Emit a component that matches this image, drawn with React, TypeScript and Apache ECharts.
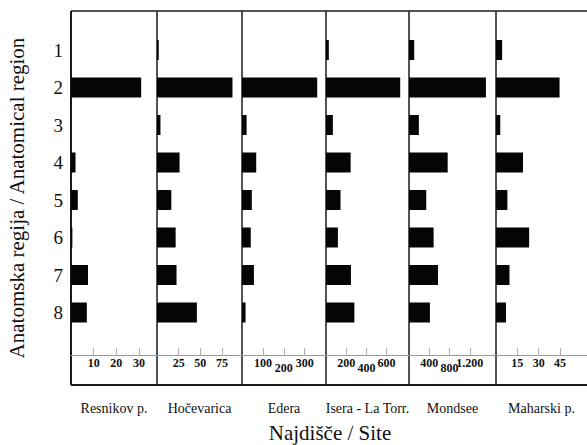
import React, { useEffect, useRef } from "react";
import * as echarts from "echarts";

const categories = ["1", "2", "3", "4", "5", "6", "7", "8"];
const sites = ["Resnikov p.", "Hočevarica", "Edera", "Isera - La Torr.", "Mondsee", "Maharski p."];

const resnikov = [0, 31, 0, 2, 3, 0.6, 7.5, 7];
const hocevarica = [2, 87, 4, 26, 16.5, 21.5, 22.5, 46];
const edera = [0, 360, 22, 68, 47, 42, 57, 17];
const isera = [28, 735, 68, 244, 144, 118, 247, 281];
const mondsee = [103, 1519, 195, 764, 341, 486, 572, 413];
const maharski = [4.3, 44.7, 3, 19, 8, 23.3, 9.5, 7];

const seriesValues = [resnikov, hocevarica, edera, isera, mondsee, maharski];

const resnikovTicks = [10, 20, 30];
const hocevaricaTicks = [25, 50, 75];
const ederaTicks = [100, 200, 300];
const iseraTicks = [200, 400, 600];
const mondseeTicks = [400, 800, 1200];
const maharskiTicks = [15, 30, 45];
const tickValues = [resnikovTicks, hocevaricaTicks, ederaTicks, iseraTicks, mondseeTicks, maharskiTicks];

const axisMax = [38, 98, 402, 822, 1718, 64];

// layout
const panelEdges = [71, 157, 242, 326, 409, 496, 587];
const staggered = [false, false, true, true, true, false];
const frameTop = 11;
const frameBottom = 385;
const barTop = 31.25;
const barHeight = 300;
const axisY = 355;

const serif = "Liberation Serif";

function fmt(v: number): string {
  if (v >= 1000) {
    return Math.floor(v / 1000) + "." + String(v % 1000).padStart(3, "0");
  }
  return String(v);
}

const labelStyle = {
  color: "#111",
  fontFamily: serif,
  fontSize: 12,
  fontWeight: "bold",
};

export default function App() {
  const ref = useRef<HTMLDivElement>(null);
  useEffect(() => {
    document.body.style.margin = "0";
    if (!ref.current) return;
    const chart = echarts.init(ref.current, null, { renderer: "svg" });

    const grids: any[] = [];
    const xAxes: any[] = [];
    const yAxes: any[] = [];
    const series: any[] = [];
    const offset = axisY - (barTop + barHeight);

    sites.forEach((site, i) => {
      const left = panelEdges[i];
      const width = panelEdges[i + 1] - panelEdges[i];
      grids.push({ left, width, top: barTop, height: barHeight, containLabel: false });
      const ticks = tickValues[i];
      const stag = staggered[i];
      const upper = stag ? ticks.filter((_, k) => k !== 1) : ticks;
      const xIndex = xAxes.length;
      xAxes.push({
        type: "value",
        gridIndex: i,
        position: "bottom",
        offset,
        min: 0,
        max: axisMax[i],
        splitLine: { show: false },
        axisLine: { show: true, lineStyle: { color: "#9a9a9a", width: 1 } },
        axisTick: {
          show: true,
          inside: true,
          length: 7,
          customValues: ticks,
          lineStyle: { color: "#b0b0b0", width: 1 },
        },
        axisLabel: {
          show: true,
          customValues: upper,
          showMinLabel: true,
          showMaxLabel: true,
          hideOverlap: false,
          margin: 2,
          ...labelStyle,
          formatter: (v: number) => fmt(v),
        },
        name: site,
        nameLocation: "middle",
        nameGap: 46,
        nameTextStyle: { fontFamily: serif, fontSize: 14, color: "#111" },
      });
      if (stag) {
        xAxes.push({
          type: "value",
          gridIndex: i,
          position: "bottom",
          offset,
          min: 0,
          max: axisMax[i],
          splitLine: { show: false },
          axisLine: { show: false },
          axisTick: { show: false },
          axisLabel: {
            show: true,
            customValues: [ticks[1]],
            showMinLabel: true,
            showMaxLabel: true,
            margin: 7,
            ...labelStyle,
            formatter: (v: number) => fmt(v),
          },
        });
      }
      yAxes.push({
        type: "category",
        gridIndex: i,
        data: categories,
        inverse: true,
        axisLine: { show: false },
        axisTick: { show: false },
        splitLine: { show: false },
        axisLabel: {
          show: i === 0,
          margin: 8,
          fontFamily: serif,
          fontSize: 19,
          color: "#111",
        },
      });
      series.push({
        type: "bar",
        xAxisIndex: xIndex,
        yAxisIndex: i,
        data: seriesValues[i],
        barWidth: 20,
        itemStyle: { color: "#050505" },
        silent: true,
      });
    });

    const lineStyle = (w: number) => ({ stroke: "#1a1a1a", lineWidth: w });
    const graphics: any[] = [
      { type: "line", shape: { x1: panelEdges[0], y1: frameTop, x2: 600, y2: frameTop }, style: lineStyle(1.5) },
      { type: "line", shape: { x1: panelEdges[0], y1: frameBottom, x2: 600, y2: frameBottom }, style: lineStyle(2) },
      { type: "line", shape: { x1: panelEdges[0], y1: frameTop, x2: panelEdges[0], y2: frameBottom }, style: lineStyle(2) },
    ];
    for (let i = 1; i < panelEdges.length - 1; i++) {
      graphics.push({
        type: "line",
        shape: { x1: panelEdges[i], y1: frameTop, x2: panelEdges[i], y2: frameBottom },
        style: lineStyle(1.5),
      });
    }
    graphics.push({
      type: "text",
      x: 17,
      y: 198,
      rotation: Math.PI / 2,
      style: {
        text: "Anatomska regija / Anatomical region",
        fontFamily: serif,
        fontSize: 21,
        fill: "#111",
        align: "center",
        verticalAlign: "middle",
      },
    });
    graphics.push({
      type: "text",
      x: 330,
      y: 433,
      style: {
        text: "Najdišče / Site",
        fontFamily: serif,
        fontSize: 21,
        fill: "#111",
        align: "center",
        verticalAlign: "middle",
      },
    });

    chart.setOption({
      animation: false,
      backgroundColor: "#ffffff",
      grid: grids,
      xAxis: xAxes,
      yAxis: yAxes,
      series,
      graphic: graphics,
    });
    return () => chart.dispose();
  }, []);
  return <div ref={ref} style={{ width: 587, height: 445 }} />;
}
